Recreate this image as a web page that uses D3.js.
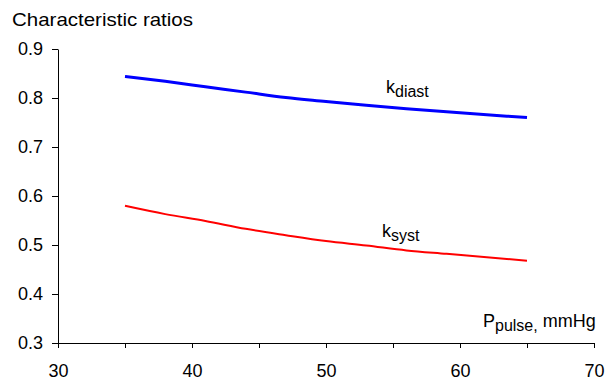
<!DOCTYPE html>
<html>
<head>
<meta charset="utf-8">
<script src="https://cdn.jsdelivr.net/npm/d3@7"></script>
<style>
  body { margin: 0; background: #fff; }
  svg text { font-family: "Liberation Sans", Arial, sans-serif; fill: #000; }
</style>
</head>
<body>
<svg id="chart" width="608" height="381"></svg>
<script>
// pulse pressure, mmHg
var pulse = [35, 38, 41, 44, 47, 50, 53, 56, 59, 62, 65];
var kDiast = [0.844, 0.834, 0.823, 0.812, 0.801, 0.793, 0.785, 0.778, 0.772, 0.766, 0.760];
var kSyst = [0.580, 0.563, 0.549, 0.533, 0.520, 0.508, 0.499, 0.489, 0.482, 0.475, 0.468];
var xTicks = [30, 35, 40, 45, 50, 55, 60, 65, 70];
var xLabels = [30, 40, 50, 60, 70];
var yTicks = [0.3, 0.4, 0.5, 0.6, 0.7, 0.8, 0.9];

var svg = d3.select('#chart');

var x = d3.scaleLinear().domain([30, 70]).range([58, 594]);
var y = d3.scaleLinear().domain([0.3, 0.9]).range([343, 49]);

// title
svg.append('text')
  .attr('x', 12)
  .attr('y', 26)
  .attr('textLength', 181)
  .attr('lengthAdjust', 'spacingAndGlyphs')
  .style('font-size', '19px')
  .text('Characteristic ratios');

// y axis
var yAxis = svg.append('g')
  .attr('transform', 'translate(58,0)')
  .call(d3.axisLeft(y).tickValues(yTicks).tickSize(6).tickPadding(9)
    .tickSizeOuter(0).tickFormat(d3.format('.1f')));

yAxis.selectAll('text').style('font-size', '18px');

// x axis: ticks every 5, labels every 10
var xAxis = svg.append('g')
  .attr('transform', 'translate(0,343)')
  .call(d3.axisBottom(x).tickValues(xTicks).tickSize(5).tickPadding(16)
    .tickSizeOuter(0)
    .tickFormat(function (d) { return xLabels.indexOf(d) >= 0 ? d : ''; }));

xAxis.selectAll('text').style('font-size', '18px');

svg.selectAll('.domain, .tick line').attr('stroke', '#000');

var line = function (vals) {
  return d3.line()
    .x(function (d, i) { return x(pulse[i]); })
    .y(function (d) { return y(d); })
    .curve(d3.curveMonotoneX)(vals);
};

svg.append('path')
  .attr('d', line(kDiast))
  .attr('fill', 'none')
  .attr('stroke', '#0000ff')
  .attr('stroke-width', 3);

svg.append('path')
  .attr('d', line(kSyst))
  .attr('fill', 'none')
  .attr('stroke', '#ff0000')
  .attr('stroke-width', 2);

// label with subscript
function subLabel(px, py, main, sub, rest) {
  var t = svg.append('text')
    .attr('x', px)
    .attr('y', py)
    .style('font-size', '18px');
  t.append('tspan').text(main);
  t.append('tspan').attr('dy', 4).style('font-size', '16px').text(sub);
  if (rest) {
    t.append('tspan').attr('dy', -4).text(rest);
  }
}

subLabel(386, 93, 'k', 'diast');
subLabel(382, 237, 'k', 'syst');
subLabel(483, 327, 'P', 'pulse,', ' mmHg');
</script>
</body>
</html>
